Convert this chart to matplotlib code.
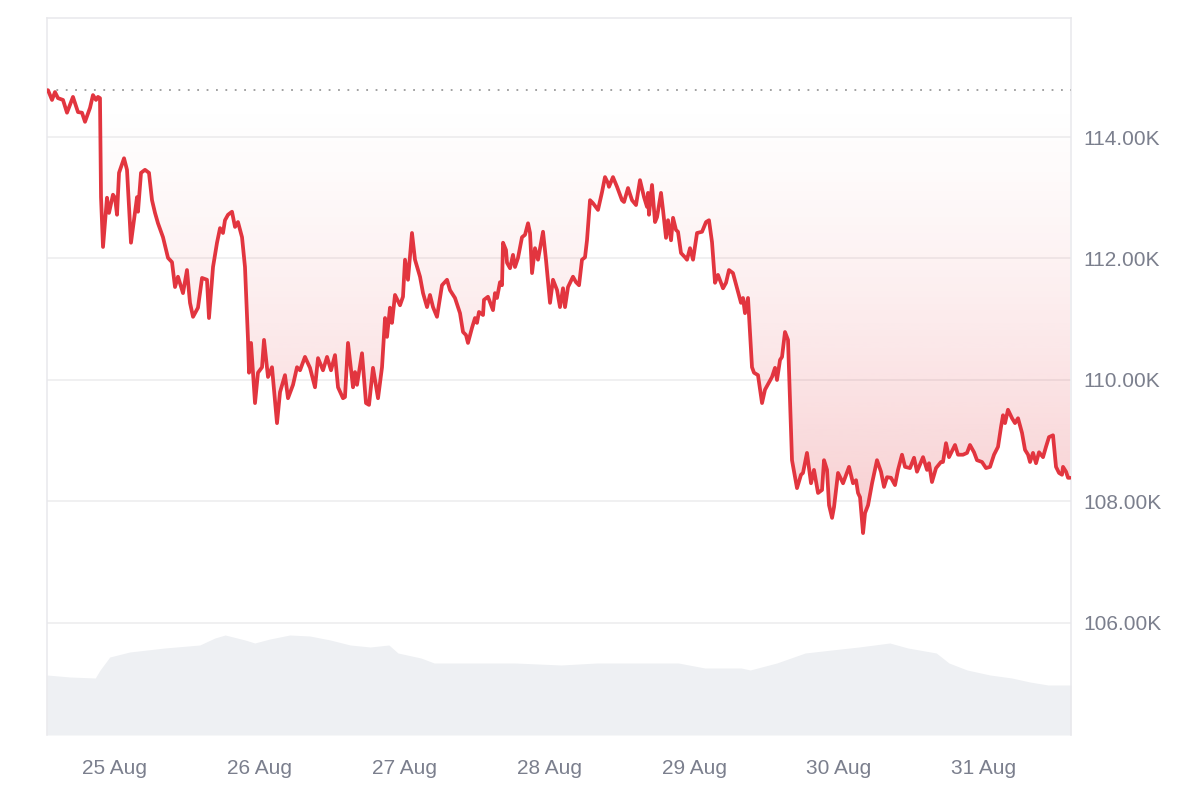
import matplotlib
matplotlib.use('Agg')
import matplotlib.pyplot as plt
import matplotlib.dates as mdates
import matplotlib.colors as mcolors
from matplotlib.ticker import FuncFormatter, FixedLocator
from datetime import datetime, timedelta
import numpy as np

plt.rcParams['font.family'] = ['Liberation Sans', 'DejaVu Sans']

# ---------------- data ----------------
start = datetime(2025, 8, 25)

price_hours = [
    -11.09, -10.92, -10.26, -9.77, -9.27, -8.44, -7.78, -6.79, -5.96, -5.30, -4.80,
    -3.97, -3.48, -2.98, -2.65, -2.32, -2.15, -1.82, -1.16, -0.83, -0.17, 0.17,
    0.50, 0.83, 1.66, 2.15, 2.81, 3.81, 3.97, 4.47, 5.13, 5.79, 6.29, 6.79, 7.28,
    8.11, 8.94, 9.60, 10.10, 10.59, 11.42, 12.08, 12.58, 13.08, 13.90, 14.57,
    15.39, 15.72, 16.39, 17.05, 17.55, 18.04, 18.37, 18.87, 19.53, 20.03, 20.52,
    21.19, 21.68, 22.18, 22.35, 22.68, 23.34, 23.83, 24.50, 24.83, 25.49, 26.15,
    26.98, 27.48, 28.30, 28.80, 29.63, 30.29, 30.79, 31.61, 32.44, 33.27, 33.77,
    34.59, 35.26, 35.92, 36.58, 37.08, 37.90, 38.23, 38.73, 39.56, 39.89, 40.22,
    41.05, 41.71, 42.21, 42.87, 43.70, 44.36, 44.86, 45.19, 45.68, 46.01, 46.51,
    47.34, 47.83, 48.17, 48.66, 49.32, 49.82, 50.65, 51.15, 51.81, 52.30, 52.80,
    53.46, 54.29, 55.12, 55.61, 56.44, 57.27, 57.77, 58.26, 58.59, 59.26, 59.75,
    60.08, 60.41, 61.08, 61.24, 61.90, 62.73, 63.06, 63.39, 63.89, 64.22, 64.39,
    64.88, 65.05, 65.55, 66.04, 66.37, 66.87, 67.53, 68.03, 68.53, 68.86, 69.19,
    69.68, 70.18, 71.01, 71.50, 72.17, 72.66, 73.33, 73.82, 74.32, 74.65, 75.15,
    75.97, 76.47, 76.97, 77.46, 77.96, 78.29, 78.79, 79.28, 80.11, 80.77, 81.27,
    81.77, 81.93, 82.59, 83.26, 84.08, 84.42, 85.08, 85.74, 86.40, 87.06, 87.73,
    88.22, 88.39, 88.55, 89.05, 89.55, 89.88, 90.54, 90.87, 91.37, 91.70, 92.20,
    92.53, 93.02, 93.35, 93.85, 94.51, 94.84, 95.34, 95.84, 96.50, 97.33, 97.99,
    98.48, 98.98, 99.48, 99.97, 100.80, 101.30, 101.79, 102.45, 103.12, 103.78,
    104.11, 104.44, 104.94, 105.60, 105.93, 106.59, 107.26, 107.75, 108.91,
    109.41, 109.74, 110.24, 110.57, 111.06, 111.56, 112.22, 113.05, 113.71,
    114.04, 114.70, 115.37, 115.86, 116.53, 117.19, 117.52, 118.02, 118.35,
    118.85, 119.18, 119.84, 120.67, 121.66, 122.32, 122.82, 123.15, 123.48,
    123.98, 124.31, 124.81, 125.47, 126.29, 126.95, 127.45, 127.95, 128.61,
    129.27, 129.77, 130.43, 130.93, 131.75, 132.42, 132.91, 133.91, 134.57,
    134.90, 135.39, 136.06, 136.88, 137.21, 137.71, 138.21, 139.20, 139.70,
    140.53, 141.19, 141.68, 142.35, 142.84, 143.67, 144.33, 145.00, 145.66,
    146.32, 146.82, 147.15, 147.48, 147.97, 148.64, 149.13, 149.63, 150.29,
    150.79, 151.29, 151.62, 152.11, 152.61, 153.11, 153.77, 154.26, 154.76,
    155.42, 155.92, 156.42, 156.91, 157.08, 157.58, 157.91, 158.24,
]

price_k = [
    114.77, 114.77, 114.61, 114.74, 114.64, 114.61, 114.40, 114.66, 114.41, 114.40, 114.25,
    114.48, 114.69, 114.61, 114.66, 114.64, 113.01, 112.19, 113.00, 112.75, 113.05, 113.00,
    112.72, 113.41, 113.65, 113.46, 112.26, 113.01, 112.77, 113.41, 113.46, 113.41, 112.96, 112.75, 112.58,
    112.35, 112.01, 111.94, 111.53, 111.70, 111.43, 111.81, 111.27, 111.04, 111.19, 111.68,
    111.65, 111.02, 111.86, 112.26, 112.50, 112.42, 112.63, 112.72, 112.77, 112.52, 112.60,
    112.35, 111.86, 110.66, 110.12, 110.61, 109.62, 110.12, 110.21, 110.66, 110.05, 110.21,
    109.29, 109.80, 110.08, 109.70, 109.92, 110.21, 110.16, 110.38, 110.20, 109.88, 110.36,
    110.16, 110.38, 110.16, 110.41, 109.88, 109.70, 109.72, 110.61, 109.88, 110.13, 109.92,
    110.44, 109.62, 109.59, 110.20, 109.70, 110.21, 111.02, 110.71, 111.19, 110.94, 111.40,
    111.23, 111.37, 111.98, 111.65, 112.42, 111.98, 111.70, 111.43, 111.20, 111.40, 111.20,
    111.04, 111.56, 111.65, 111.48, 111.35, 111.10, 110.79, 110.74, 110.61, 110.86, 111.02,
    110.94, 111.12, 111.07, 111.32, 111.37, 111.15, 111.43, 111.35, 111.61, 111.56, 112.26,
    112.14, 111.93, 111.84, 112.06, 111.86, 112.01, 112.35, 112.39, 112.58, 112.42, 111.76,
    112.17, 111.98, 112.44, 111.98, 111.27, 111.65, 111.48, 111.20, 111.51, 111.20, 111.53,
    111.70, 111.61, 111.56, 111.98, 112.02, 112.30, 112.96, 112.91, 112.80, 113.09, 113.34,
    113.24, 113.18, 113.34, 113.18, 112.96, 112.93, 113.16, 112.96, 112.88, 113.29, 113.01,
    112.85, 113.08, 112.72, 113.21, 112.60, 112.68, 113.08, 112.80, 112.34, 112.63, 112.30,
    112.67, 112.47, 112.44, 112.09, 112.02, 111.98, 112.17, 111.98, 112.42, 112.44, 112.60,
    112.63, 112.27, 111.60, 111.73, 111.51, 111.60, 111.81, 111.76, 111.51, 111.27,
    111.35, 111.10, 111.35, 110.21, 110.12, 110.08, 109.62, 109.84, 110.05,
    110.20, 110.00, 110.33, 110.38, 110.79, 110.66, 108.68, 108.22, 108.44,
    108.47, 108.80, 108.30, 108.52, 108.14, 108.19, 108.68, 108.52, 107.94,
    107.73, 107.91, 108.47, 108.30, 108.57, 108.30, 108.35, 108.14, 108.07,
    107.48, 107.81, 107.94, 108.30, 108.68, 108.49, 108.24, 108.40, 108.39,
    108.27, 108.52, 108.77, 108.57, 108.55, 108.72, 108.49, 108.73, 108.52,
    108.63, 108.32, 108.55, 108.65, 108.65, 108.96, 108.73, 108.93, 108.77,
    108.77, 108.80, 108.93, 108.81, 108.68, 108.65, 108.55, 108.57, 108.77,
    108.90, 109.23, 109.42, 109.29, 109.51, 109.37, 109.29, 109.37, 109.13,
    108.85, 108.77, 108.65, 108.80, 108.63, 108.81, 108.73, 108.90, 109.06,
    109.09, 108.57, 108.47, 108.44, 108.57, 108.49, 108.39, 108.39,
]

volume_hours = [
    -11.1, -7.3, -3.1, -2.3, -0.7, 2.6, 8.4, 14.2, 16.7, 18.4, 21.7, 23.3, 25.8,
    29.1, 32.4, 35.8, 39.1, 42.4, 45.5, 47.0, 50.8, 53.0, 58.9, 66.4, 74.0, 79.9,
    88.9, 93.4, 97.8, 103.8, 105.3, 109.7, 114.4, 118.8, 123.3, 128.4, 131.4,
    136.1, 138.2, 141.2, 145.0, 148.6, 151.6, 154.6, 158.4,
]
volume_vals = [
    6.0, 5.8, 5.7, 6.5, 7.8, 8.3, 8.7, 9.0, 9.7, 10.0, 9.5, 9.2, 9.6,
    10.0, 9.9, 9.5, 9.0, 8.8, 9.0, 8.2, 7.7, 7.2, 7.2, 7.2, 7.0, 7.2,
    7.2, 7.2, 6.7, 6.7, 6.5, 7.2, 8.2, 8.5, 8.8, 9.2, 8.7,
    8.2, 7.2, 6.5, 6.0, 5.7, 5.3, 5.0, 5.0,
]

baseline_k = 114.77
y_ticks_k = [106, 108, 110, 112, 114]
tick_days = [25, 26, 27, 28, 29, 30, 31]

# ---------------- styling ----------------
LINE_RED = '#e2353f'
FILL_RED = '#e2353f'
TEXT_GRAY = '#7b7f8d'
GRID = '#ececee'
FRAME = '#e8e8ec'
VOL_GRAY = '#eef0f3'

times = [start + timedelta(hours=h) for h in price_hours]
vtimes = [start + timedelta(hours=h) for h in volume_hours]
tnum = mdates.date2num(times)
vnum = mdates.date2num(vtimes)
x0 = mdates.date2num(start + timedelta(hours=-11.09))
x1 = mdates.date2num(start + timedelta(hours=158.40))

fig = plt.figure(figsize=(12, 8), dpi=100)
fig.patch.set_facecolor('white')
pos = [47 / 1200, 1 - 735 / 800, (1071 - 47) / 1200, (735 - 18) / 800]

# volume axes (behind)
vax = fig.add_axes(pos, zorder=0)
vax.fill_between(vnum, 0, volume_vals, color=VOL_GRAY, lw=0)
vax.set_xlim(x0, x1)
vax.set_ylim(0, 71.7)
vax.axis('off')

ax = fig.add_axes(pos, zorder=1)
ax.patch.set_alpha(0)
ax.set_xlim(x0, x1)
ax.set_ylim(104.156, 115.959)

# gridlines
for v in y_ticks_k:
    ax.axhline(v, color=GRID, lw=1.1, zorder=1)

# gradient fill between line and baseline
poly = ax.fill_between(tnum, price_k, baseline_k, color='none', lw=0)
ymin = min(price_k)
n = 256
rgb = mcolors.to_rgb(FILL_RED)
grad = np.zeros((n, 1, 4))
grad[:, 0, 0] = rgb[0]
grad[:, 0, 1] = rgb[1]
grad[:, 0, 2] = rgb[2]
t = np.linspace(1.0, 0.0, n)
grad[:, 0, 3] = 0.25 * t ** 1.4
im = ax.imshow(grad, extent=[x0, x1, ymin, baseline_k], origin='lower',
               aspect='auto', zorder=2, interpolation='bicubic')
paths = poly.get_paths()
im.set_clip_path(paths[0], transform=ax.transData)
ax.set_xlim(x0, x1)
ax.set_ylim(104.156, 115.959)

# baseline dotted
ax.axhline(baseline_k, color='#9a9a9a', lw=1.3, linestyle=(0, (1, 4.2)), zorder=3)

# price line
ax.plot(tnum, price_k, color=LINE_RED, lw=2.7, solid_joinstyle='round',
        solid_capstyle='round', zorder=4)

# axes styling
for s in ['top', 'left', 'right']:
    ax.spines[s].set_color(FRAME)
    ax.spines[s].set_linewidth(1.1)
ax.spines['bottom'].set_visible(False)

ax.yaxis.tick_right()
ax.yaxis.set_major_locator(FixedLocator(y_ticks_k))
ax.yaxis.set_major_formatter(FuncFormatter(lambda v, p: f"{v:.2f}K"))
ax.tick_params(axis='y', length=0, pad=9, labelsize=15, labelcolor=TEXT_GRAY)

xt = [mdates.date2num(datetime(2025, 8, d)) for d in tick_days]
ax.set_xticks(xt)
ax.set_xticklabels([f"{d} Aug" for d in tick_days])
ax.tick_params(axis='x', length=0, pad=17, labelsize=15, labelcolor=TEXT_GRAY)

fig.savefig('out.png', dpi=100, facecolor='white')
